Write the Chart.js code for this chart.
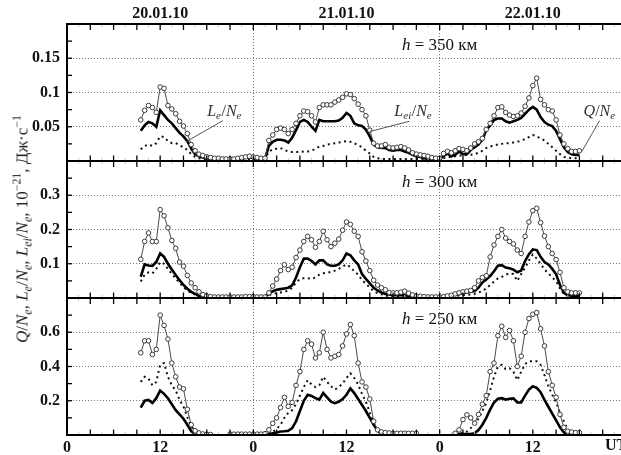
<!DOCTYPE html>
<html><head><meta charset="utf-8">
<script src="https://cdn.jsdelivr.net/npm/chart.js@4"></script>
<style>
html,body{margin:0;padding:0;background:#fff;overflow:hidden;width:621px;height:455px;}
#wrap{position:relative;width:640px;height:455px;}
canvas{position:absolute;left:0;top:0;}
#ytitle{position:absolute;left:22px;top:229px;transform:translate(-50%,-50%) rotate(-90deg);white-space:nowrap;font:17px "Liberation Serif","DejaVu Serif",serif;color:#222;line-height:17px;}
#ytitle sub,#ytitle sup{font-size:70%;line-height:0;}
</style></head>
<body><div id="wrap"><canvas id="c" width="640" height="455"></canvas>
<div id="ytitle"><i>Q</i>/<i>N<sub>e</sub></i>, <i>L<sub>e</sub></i>/<i>N<sub>e</sub></i>, <i>L<sub>ei</sub></i>/<i>N<sub>e</sub></i>, 10<sup>−21</sup>, Дж·с<sup>−1</sup></div>
</div>
<script>
// time grid, hours from 20.01.10 00:00 UT
const hours = [9.5,10,10.5,11,11.5,12,
12.5,13,13.5,14,14.5,15,15.5,16,16.5,17,17.5,18,
18.5,19,19.5,20,20.5,21,21.5,22,22.5,23,23.5,24,
24.5,25,25.5,26,26.5,27,27.5,28,28.5,29,29.5,30,
30.5,31,31.5,32,32.5,33,33.5,34,34.5,35,35.5,36,
36.5,37,37.5,38,38.5,39,39.5,40,40.5,41,41.5,42,
42.5,43,43.5,44,44.5,45,45.5,46,46.5,47,47.5,48,
48.5,49,49.5,50,50.5,51,51.5,52,52.5,53,53.5,54,
54.5,55,55.5,56,56.5,57,57.5,58,58.5,59,59.5,60,
60.5,61,61.5,62,62.5,63,63.5,64,64.5,65,65.5,66];

// h = 350 km
const Q350 = [0.060,0.074,0.081,0.078,0.071,0.108,
0.106,0.081,0.076,0.069,0.058,0.051,0.040,0.024,0.015,0.010,0.008,0.006,
0.005,0.004,0.004,0.003,0.003,0.003,0.003,0.004,0.005,0.006,0.007,0.006,
0.005,0.004,0.004,0.030,0.038,0.046,0.048,0.046,0.040,0.046,0.055,0.066,
0.073,0.072,0.066,0.057,0.078,0.082,0.082,0.082,0.086,0.089,0.093,0.098,
0.097,0.091,0.083,0.075,0.066,0.045,0.026,0.022,0.022,0.024,0.020,0.019,
0.020,0.021,0.019,0.016,0.012,0.010,0.009,0.008,0.007,0.005,0.004,0.004,
0.011,0.014,0.012,0.015,0.018,0.017,0.015,0.019,0.025,0.028,0.033,0.046,
0.055,0.066,0.078,0.079,0.071,0.067,0.065,0.066,0.070,0.080,0.092,0.110,
0.121,0.090,0.082,0.075,0.073,0.060,0.038,0.025,0.018,0.014,0.014,0.015];
const Lei350 = [0.044,0.052,0.057,0.055,0.050,0.074,
0.067,0.060,0.055,0.048,0.041,0.036,0.029,0.018,0.010,0.007,0.005,0.004,
0.003,0.003,0.003,0.003,0.003,0.003,0.003,0.003,0.004,0.005,0.005,0.005,
0.004,0.003,0.003,0.022,0.028,0.031,0.031,0.030,0.027,0.034,0.045,0.057,
0.060,0.057,0.050,0.044,0.060,0.058,0.058,0.058,0.058,0.059,0.063,0.070,
0.066,0.055,0.052,0.051,0.046,0.036,0.024,0.020,0.019,0.019,0.016,0.015,
0.016,0.016,0.014,0.012,0.009,0.007,0.006,0.004,0.003,0.003,0.003,0.003,
0.007,0.011,0.007,0.009,0.014,0.010,0.010,0.016,0.020,0.024,0.031,0.045,
0.052,0.060,0.062,0.062,0.058,0.056,0.058,0.060,0.063,0.069,0.075,0.079,
0.075,0.064,0.057,0.053,0.051,0.044,0.032,0.020,0.013,0.010,0.009,0.009];
const Le350 = [0.017,0.022,0.024,0.022,0.026,0.036,
0.035,0.029,0.026,0.026,0.023,0.020,0.016,0.010,0.006,0.004,0.003,0.002,
0.002,0.002,0.002,0.002,0.002,0.002,0.002,0.002,0.002,0.002,0.002,0.002,
0.002,0.002,0.002,0.014,0.017,0.018,0.019,0.016,0.014,0.013,0.013,0.013,
0.014,0.014,0.015,0.018,0.021,0.022,0.024,0.025,0.026,0.027,0.028,0.029,
0.028,0.026,0.023,0.020,0.015,0.011,0.006,0.004,0.003,0.003,0.003,0.003,
0.003,0.003,0.003,0.003,0.003,0.003,0.003,0.003,0.003,0.003,0.003,0.003,
0.004,0.006,0.006,0.007,0.008,0.008,0.009,0.009,0.010,0.012,0.015,0.019,
0.021,0.023,0.024,0.025,0.026,0.026,0.027,0.028,0.030,0.032,0.035,0.038,
0.036,0.033,0.030,0.025,0.020,0.015,0.010,0.006,0.005,0.004,0.004,0.004];

// h = 300 km
const Q300 = [0.113,0.165,0.190,0.165,0.165,0.258,
0.240,0.205,0.168,0.145,0.105,0.093,0.066,0.044,0.030,0.018,0.010,0.006,
0.004,0.003,0.003,0.003,0.003,0.003,0.003,0.003,0.003,0.004,0.004,0.004,
0.003,0.003,0.003,0.015,0.035,0.055,0.080,0.097,0.083,0.090,0.118,0.140,
0.165,0.180,0.170,0.148,0.165,0.195,0.170,0.150,0.160,0.172,0.198,0.222,
0.215,0.195,0.180,0.135,0.108,0.080,0.052,0.038,0.030,0.024,0.016,0.015,
0.015,0.017,0.020,0.014,0.009,0.006,0.005,0.004,0.003,0.003,0.003,0.003,
0.004,0.006,0.008,0.012,0.015,0.018,0.020,0.022,0.030,0.050,0.060,0.065,
0.120,0.155,0.180,0.200,0.175,0.165,0.158,0.140,0.130,0.180,0.222,0.255,
0.262,0.220,0.181,0.150,0.130,0.112,0.075,0.030,0.018,0.015,0.015,0.015];
const Lei300 = [0.062,0.098,0.095,0.094,0.105,0.130,
0.120,0.100,0.083,0.067,0.052,0.038,0.027,0.018,0.012,0.006,0.004,0.003,
0.003,0.003,0.003,0.003,0.003,0.003,0.003,0.003,0.003,0.003,0.003,0.003,
0.003,0.003,0.003,0.012,0.020,0.024,0.026,0.028,0.030,0.037,0.060,0.090,
0.115,0.115,0.108,0.098,0.110,0.110,0.098,0.094,0.094,0.098,0.110,0.130,
0.125,0.110,0.098,0.070,0.056,0.043,0.030,0.022,0.016,0.012,0.010,0.008,
0.008,0.008,0.008,0.006,0.005,0.003,0.003,0.003,0.003,0.003,0.003,0.003,
0.004,0.006,0.008,0.010,0.012,0.014,0.016,0.018,0.020,0.030,0.045,0.054,
0.064,0.078,0.094,0.096,0.089,0.087,0.083,0.075,0.080,0.108,0.128,0.142,
0.140,0.120,0.105,0.098,0.085,0.069,0.038,0.015,0.008,0.007,0.007,0.007];
const Le300 = [0.048,0.068,0.075,0.072,0.085,0.105,
0.100,0.085,0.070,0.057,0.045,0.032,0.022,0.015,0.010,0.005,0.003,0.002,
0.002,0.002,0.002,0.002,0.002,0.002,0.002,0.002,0.002,0.002,0.002,0.002,
0.002,0.002,0.002,0.008,0.012,0.014,0.016,0.018,0.022,0.030,0.045,0.055,
0.058,0.058,0.056,0.060,0.068,0.072,0.074,0.076,0.080,0.085,0.092,0.098,
0.090,0.078,0.068,0.052,0.042,0.030,0.020,0.014,0.010,0.007,0.005,0.004,
0.004,0.004,0.004,0.003,0.003,0.002,0.002,0.002,0.002,0.002,0.002,0.002,
0.003,0.004,0.005,0.006,0.007,0.008,0.009,0.010,0.012,0.016,0.020,0.028,
0.038,0.048,0.057,0.062,0.068,0.072,0.070,0.050,0.070,0.088,0.110,0.127,
0.115,0.100,0.083,0.072,0.060,0.049,0.028,0.012,0.006,0.005,0.005,0.005];

// h = 250 km
const Q250 = [0.48,0.55,0.55,0.47,0.50,0.70,
0.64,0.56,0.42,0.34,0.28,0.27,0.15,0.06,0.025,0.012,0.006,0.004,
0.003,null,null,null,null,0.005,0.005,0.005,0.005,0.005,0.005,0.005,
0.005,0.005,0.008,0.03,0.068,0.10,0.16,0.22,0.167,0.19,0.29,0.37,
0.50,0.55,0.53,0.45,0.48,0.60,0.50,0.45,0.46,0.47,0.52,0.59,
0.645,0.58,0.42,0.31,0.28,0.21,0.08,0.03,0.018,0.014,0.012,0.010,
0.010,0.010,0.010,0.010,0.010,0.010,null,null,null,null,null,null,
null,null,null,0.01,0.03,0.09,0.118,0.10,0.069,0.12,0.18,0.23,
0.37,0.42,0.58,0.635,0.57,0.61,0.55,0.40,0.46,0.60,0.68,0.705,
0.715,0.62,0.52,0.37,0.29,0.22,0.12,0.045,0.022,0.017,0.014,0.014];
const Lei250 = [0.16,0.20,0.205,0.187,0.215,0.26,
0.24,0.215,0.18,0.145,0.12,0.095,0.06,0.022,0.008,0.004,0.003,0.002,
0.002,null,null,null,null,0.003,0.003,0.003,0.003,0.003,0.003,0.003,
0.003,0.003,0.004,0.005,0.01,0.015,0.02,0.022,0.025,0.04,0.08,0.14,
0.20,0.235,0.228,0.215,0.207,0.245,0.22,0.195,0.186,0.194,0.21,0.235,
0.272,0.245,0.21,0.175,0.14,0.10,0.06,0.025,0.006,0.004,0.004,0.004,
0.004,0.004,0.004,0.004,0.004,0.004,null,null,null,null,null,null,
null,null,null,0.004,0.005,0.006,0.006,0.006,0.01,0.029,0.06,0.10,
0.148,0.19,0.212,0.215,0.207,0.212,0.214,0.19,0.19,0.23,0.265,0.284,
0.275,0.25,0.205,0.165,0.125,0.085,0.045,0.015,0.006,0.004,0.004,0.004];
const Le250 = [0.31,0.34,0.33,0.29,0.31,0.41,
0.42,0.34,0.29,0.26,0.206,0.165,0.105,0.05,0.02,0.008,0.004,0.003,
0.002,null,null,null,null,0.003,0.003,0.003,0.003,0.003,0.003,0.003,
0.003,0.003,0.004,0.008,0.018,0.035,0.06,0.10,0.13,0.145,0.18,0.23,
0.28,0.32,0.295,0.28,0.29,0.34,0.31,0.285,0.265,0.28,0.30,0.333,
0.36,0.333,0.295,0.24,0.195,0.13,0.07,0.025,0.01,0.005,0.005,0.005,
0.005,0.005,0.005,0.005,0.005,0.005,null,null,null,null,null,null,
null,null,null,0.005,0.008,0.012,0.02,0.04,0.065,0.095,0.14,0.186,
0.26,0.34,0.40,0.41,0.385,0.39,0.37,0.32,0.37,0.415,0.43,0.43,
0.43,0.41,0.35,0.285,0.235,0.19,0.13,0.08,0.03,0.012,0.008,0.006];

// axis ticks and labels
const xTickVals = [0,12,24,36,48,60];
const xTickLabels = ['0','12','0','12','0','12'];
const xGridVals = [24,48];
const dateTicks = [12,36,60];
const dateLabels = ['20.01.10','21.01.10','22.01.10'];
const yTicks350 = [0.05,0.1,0.15], yLabels350 = ['0.05','0.1','0.15'];
const yTicks300 = [0.1,0.2,0.3], yLabels300 = ['0.1','0.2','0.3'];
const yTicks250 = [0.2,0.4,0.6], yLabels250 = ['0.2','0.4','0.6'];
const panelTitles = ['350','300','250'];

const SERIF = '"Liberation Serif","DejaVu Serif",serif';
const tickFont = {family: SERIF, size: 16, weight: 'bold'};
const GRID = '#777';

function yAxis(max, vals, labels) {
  return {
    type: 'linear', position: 'left', stack: 'panels', stackWeight: 1, min: 0, max: max, offset: false,
    afterBuildTicks: s => { s.ticks = vals.map(v => ({value: v})); },
    ticks: {callback: (v, i) => labels[i], font: tickFont, color: '#111', padding: 7, autoSkip: false},
    grid: {color: GRID, lineWidth: 1, drawTicks: false},
    border: {display: false, dash: [1, 2]},
    afterFit: s => { s.width = 67; }
  };
}

const pts = arr => hours.map((h, i) => ({x: h, y: arr[i]}));
function circles(arr, ax) {
  return {data: pts(arr), yAxisID: ax, borderColor: '#4a4a4a', borderWidth: 1, pointRadius: 2.3,
    pointBorderWidth: 1, pointBorderColor: '#3a3a3a', pointBackgroundColor: '#fff', order: 0};
}
function thick(arr, ax) {
  return {data: pts(arr), yAxisID: ax, borderColor: '#000', borderWidth: 2.6, pointRadius: 0, order: 1};
}
function dotted(arr, ax) {
  return {data: pts(arr), yAxisID: ax, borderColor: '#111', borderWidth: 2, borderDash: [2, 3.5], pointRadius: 0, order: 2};
}

// annotation anchor positions in data units (hour, value) on the top panel
const notes = [
  {segs: [['L', 1, 0], ['e', 1, 1], ['/', 0, 0], ['N', 1, 0], ['e', 1, 1]], at: [20.3, 0.0725], from: [20.1, 0.059], to: [15.3, 0.028]},
  {segs: [['L', 1, 0], ['ei', 1, 1], ['/', 0, 0], ['N', 1, 0], ['e', 1, 1]], at: [44.6, 0.0725], from: [44.1, 0.058], to: [39.0, 0.043]},
  {segs: [['Q', 1, 0], ['/', 0, 0], ['N', 1, 0], ['e', 1, 1]], at: [68.6, 0.0725], from: [68.6, 0.059], to: [66.3, 0.0137]}
];

function richText(ctx, segs, cx, cy) {
  const big = 16, small = 11;
  const fontOf = s => (s[1] ? 'italic ' : '') + (s[2] ? small : big) + 'px ' + SERIF;
  let w = 0;
  segs.forEach(s => { ctx.font = fontOf(s); w += ctx.measureText(s[0]).width + (s[2] ? 0.5 : 0); });
  let x = cx - w / 2;
  ctx.textAlign = 'left'; ctx.textBaseline = 'alphabetic';
  segs.forEach(s => { ctx.font = fontOf(s); ctx.fillText(s[0], x, cy + 5 + (s[2] ? 3 : 0)); x += ctx.measureText(s[0]).width + (s[2] ? 0.5 : 0); });
}

const framePlugin = {
  id: 'frame',
  afterDatasetsDraw(chart) {
    const {ctx, chartArea: a, scales} = chart;
    const xs = scales.x;
    const panels = [scales.y350, scales.y300, scales.y250];
    const steps = [0.025, 0.05, 0.1];
    ctx.save();
    const line = (x1, y1, x2, y2) => { ctx.beginPath(); ctx.moveTo(x1, y1); ctx.lineTo(x2, y2); ctx.stroke(); };
    // x tick marks on each panel boundary
    const bounds = [panels[0].top, panels[1].top, panels[2].top, panels[2].bottom];
    for (let h = 1.5; h < 72; h += 3) {
      const px = xs.getPixelForValue(h);
      ctx.strokeStyle = '#c8c8c8'; ctx.lineWidth = 1;
      bounds.forEach((b, i) => line(px, b - (i > 0 ? 3 : 0), px, b + (i < 3 ? 3 : 0)));
    }
    ctx.strokeStyle = '#000'; ctx.lineWidth = 1.3;
    for (let h = 3; h < 72; h += 3) {
      const px = xs.getPixelForValue(h);
      bounds.forEach((b, i) => line(px, b - (i > 0 ? 5.5 : 0), px, b + (i < 3 ? 6 : 0)));
    }
    // y tick marks
    panels.forEach((s, k) => {
      for (let v = steps[k]; v < s.max - 1e-9; v += steps[k]) {
        const py = s.getPixelForValue(v);
        line(a.left, py, a.left + 5, py);
        line(a.right - 5, py, a.right, py);
      }
    });
    // frame and panel separators
    ctx.lineWidth = 2;
    ctx.strokeRect(a.left, a.top, a.right - a.left, a.bottom - a.top);
    line(a.left, panels[1].top, a.right, panels[1].top);
    line(a.left, panels[2].top, a.right, panels[2].top);
    ctx.restore();
  },
  afterDraw(chart) {
    const {ctx, scales} = chart;
    const xs = scales.x;
    const panels = [scales.y350, scales.y300, scales.y250];
    ctx.save();
    ctx.fillStyle = '#111';
    // panel titles  h = ... км
    panels.forEach((s, k) => {
      const cx = xs.getPixelForValue(48), cy = s.top + 22;
      const f1 = 'italic 17px ' + SERIF, f2 = '17px ' + SERIF;
      const t2 = ' = ' + panelTitles[k] + ' км';
      ctx.font = f1; const w1 = ctx.measureText('h').width;
      ctx.font = f2; const w2 = ctx.measureText(t2).width;
      let x = cx - (w1 + w2) / 2;
      ctx.textBaseline = 'middle'; ctx.textAlign = 'left';
      ctx.font = f1; ctx.fillText('h', x, cy);
      ctx.font = f2; ctx.fillText(t2, x + w1, cy);
    });
    // series labels with leader lines (top panel)
    const ys = scales.y350;
    ctx.strokeStyle = '#555'; ctx.lineWidth = 1;
    notes.forEach(n => {
      ctx.beginPath();
      ctx.moveTo(xs.getPixelForValue(n.from[0]), ys.getPixelForValue(n.from[1]));
      ctx.lineTo(xs.getPixelForValue(n.to[0]), ys.getPixelForValue(n.to[1]));
      ctx.stroke();
      ctx.fillStyle = '#333';
      richText(ctx, n.segs, xs.getPixelForValue(n.at[0]), ys.getPixelForValue(n.at[1]));
    });
    // UT label
    ctx.fillStyle = '#111';
    ctx.font = 'bold 16px ' + SERIF; ctx.textAlign = 'left'; ctx.textBaseline = 'top';
    ctx.fillText('UT', xs.getPixelForValue(69.3), scales.x.top + 3);
    ctx.restore();
  }
};

new Chart(document.getElementById('c'), {
  type: 'line',
  data: {datasets: [
    circles(Q350, 'y350'), thick(Lei350, 'y350'), dotted(Le350, 'y350'),
    circles(Q300, 'y300'), thick(Lei300, 'y300'), dotted(Le300, 'y300'),
    circles(Q250, 'y250'), thick(Lei250, 'y250'), dotted(Le250, 'y250')
  ]},
  options: {
    responsive: false, animation: false,
    layout: {padding: {left: 0, right: 14, top: 0, bottom: 0}},
    plugins: {legend: {display: false}, tooltip: {enabled: false}},
    elements: {line: {tension: 0}},
    scales: {
      x: {type: 'linear', position: 'bottom', min: 0, max: 72,
        afterBuildTicks: s => { s.ticks = xTickVals.map(v => ({value: v})); },
        ticks: {callback: (v, i) => xTickLabels[i], font: tickFont, color: '#111', padding: 3, maxRotation: 0, autoSkip: false},
        grid: {color: ctx => (ctx.tick && xGridVals.includes(ctx.tick.value)) ? GRID : 'rgba(0,0,0,0)', lineWidth: 1, drawTicks: false},
        border: {display: false, dash: [1, 2]},
        afterFit: s => { s.height = 20; }
      },
      xt: {type: 'linear', position: 'top', min: 0, max: 72,
        afterBuildTicks: s => { s.ticks = dateTicks.map(v => ({value: v})); },
        ticks: {callback: (v, i) => dateLabels[i], font: tickFont, color: '#111', padding: 1, maxRotation: 0, autoSkip: false},
        grid: {display: false, drawTicks: false}, border: {display: false},
        afterFit: s => { s.height = 24; }
      },
      y250: yAxis(0.8, yTicks250, yLabels250),
      y300: yAxis(0.4, yTicks300, yLabels300),
      y350: yAxis(0.2, yTicks350, yLabels350)
    }
  },
  plugins: [framePlugin]
});
</script>
</body></html>
